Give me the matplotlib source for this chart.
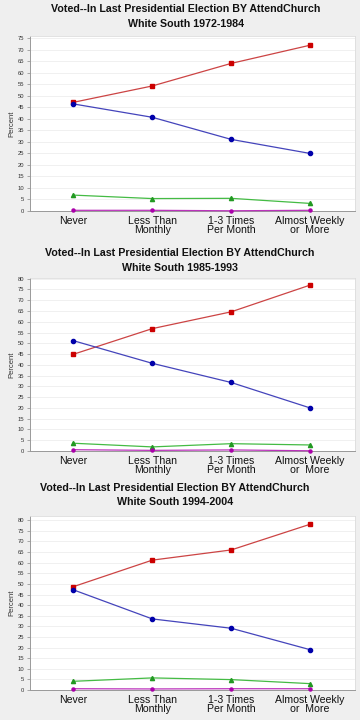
import matplotlib

matplotlib.use("Agg")
import matplotlib.pyplot as plt

plt.rcParams["font.family"] = ["Liberation Sans", "DejaVu Sans"]

categories = ["Never", "Less Than\nMonthly", "1-3 Times\nPer Month", "Almost Weekly\nor  More"]
title_main = "Voted--In Last Presidential Election BY AttendChurch"
periods = ["White South 1972-1984", "White South 1985-1993", "White South 1994-2004"]

# series per period: red, blue, green, magenta (percent)
red = [[47.2, 54.3, 64.1, 72.0],
       [44.9, 56.8, 64.6, 77.0],
       [48.7, 61.2, 66.0, 78.1]]
blue = [[46.5, 40.7, 31.1, 25.0],
        [51.2, 40.7, 31.8, 20.0],
        [47.2, 33.5, 29.1, 19.0]]
green = [[6.9, 5.4, 5.5, 3.3],
         [3.6, 1.9, 3.4, 2.8],
         [4.1, 5.7, 4.9, 3.0]]
magenta = [[0.3, 0.3, 0.1, 0.3],
           [0.6, 0.3, 0.5, 0.1],
           [0.6, 0.5, 0.6, 0.6]]
ytops = [75, 80, 80]

W, H = 360, 720
fig = plt.figure(figsize=(W / 100, H / 100), dpi=100, facecolor="#efefef")

# pixel boxes (left, top, right, bottom), ylim top and title positions per panel
boxes = [(30, 36, 355, 211), (30, 278, 355, 451), (30, 516, 355, 690)]
ylims = [76, 80.3, 82]
title_y = [(9, 24), (253, 268), (488, 502)]
title_x = [186, 180, 175]

styles = [
    (red, "#cc4444", "#cc0000", "s", 3.0),
    (blue, "#4444bb", "#0000aa", "o", 3.0),
    (green, "#44bb44", "#229922", "^", 3.0),
    (magenta, "#bb33bb", "#aa00aa", "o", 2.2),
]

x = list(range(len(categories)))
for i in range(3):
    l, t, r, b = boxes[i]
    ax = fig.add_axes([l / W, 1 - b / H, (r - l) / W, (b - t) / H])
    ax.set_facecolor("white")
    for data, lc, mc, mk, ms in styles:
        ax.plot(x, data[i], color=lc, lw=0.9, marker=mk, ms=ms,
                mfc=mc, mec=mc, clip_on=False, zorder=3)
    ax.set_xlim(-0.55, 3.57)
    ax.set_ylim(0, ylims[i])
    ax.set_yticks(range(0, ytops[i] + 1, 5))
    ax.tick_params(axis="y", labelsize=4.2, length=2, width=0.5, colors="#888888",
                   labelcolor="#333333", pad=2)
    ax.yaxis.grid(True, color="#eeeeee", lw=0.6)
    ax.set_axisbelow(True)
    ax.set_xticks(x)
    ax.set_xticklabels(categories, fontsize=7.6, color="#111111", linespacing=0.95)
    ax.tick_params(axis="x", length=0, pad=3.5)
    for s in ["top", "right"]:
        ax.spines[s].set_color("#dddddd")
        ax.spines[s].set_linewidth(0.6)
    for s in ["left", "bottom"]:
        ax.spines[s].set_color("#999999")
        ax.spines[s].set_linewidth(0.7)
    ax.set_ylabel("Percent", fontsize=5.5, color="#333333", labelpad=2)
    fig.text(title_x[i] / W, 1 - title_y[i][0] / H, title_main, ha="center", va="center",
             fontsize=7.7, fontweight="bold", color="#111111")
    fig.text(title_x[i] / W, 1 - title_y[i][1] / H, periods[i], ha="center", va="center",
             fontsize=7.7, fontweight="bold", color="#111111")

fig.savefig("out.png", dpi=100, facecolor=fig.get_facecolor())
